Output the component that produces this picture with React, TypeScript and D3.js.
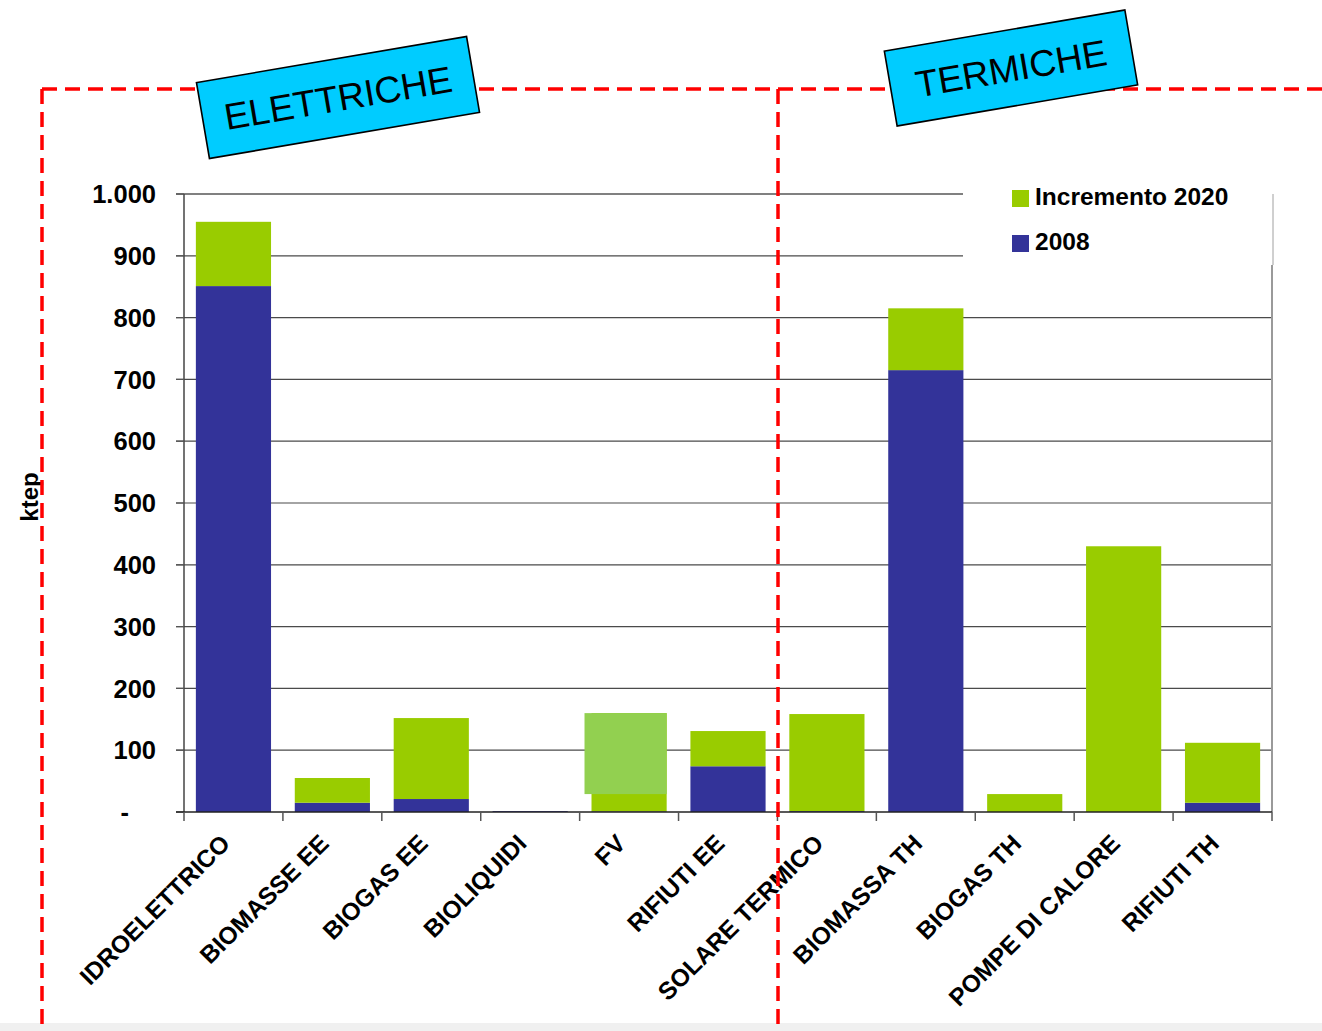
import React from "react";
import * as d3 from "d3";

// Categories and values (ktep)
const categories = [
  "IDROELETTRICO",
  "BIOMASSE EE",
  "BIOGAS EE",
  "BIOLIQUIDI",
  "FV",
  "RIFIUTI EE",
  "SOLARE TERMICO",
  "BIOMASSA TH",
  "BIOGAS TH",
  "POMPE DI CALORE",
  "RIFIUTI TH",
];
const values2008 = [851, 15, 21, 1.5, 1, 74, 1.5, 715, 0, 0, 15];
const increment2020 = [104, 40, 131, 0, 159, 57, 157, 100, 29, 430, 97];

// Highlight patch pasted over the FV column (value range)
const fvPatch = [{ category: "FV", from: 29, to: 160 }];

const yTicks = [0, 100, 200, 300, 400, 500, 600, 700, 800, 900, 1000];
const legendItems = [
  { label: "Incremento 2020", color: "#99CC00" },
  { label: "2008", color: "#333399" },
];
const sections = [
  { label: "ELETTRICHE", cx: 338, cy: 97.5, w: 274, h: 77 },
  { label: "TERMICHE", cx: 1011, cy: 68, w: 244, h: 76 },
];

const W = 1322;
const H = 1031;
const FONT = "'Liberation Sans', Arial, Helvetica, sans-serif";
const GREEN = "#99CC00";
const BLUE = "#333399";
const LIGHT_GREEN = "#92D050";
const RED = "#FF0000";

export default function App() {
  const x0 = 184;
  const x1 = 1272;
  const yBase = 812;
  const yTop = 194;

  const x = d3
    .scaleBand<string>()
    .domain(categories)
    .range([x0, x1])
    .paddingInner(0.24)
    .paddingOuter(0.12);
  const y = d3.scaleLinear().domain([0, 1000]).range([yBase, yTop]);

  const rows = categories.map((c, i) => ({
    cat: c,
    v2008: values2008[i],
    inc: increment2020[i],
  }));
  const stack = d3
    .stack<any>()
    .keys(["v2008", "inc"])(rows as any);
  const colors = [BLUE, GREEN];

  const fmt = (v: number) =>
    v === 0 ? "-" : d3.format(",")(v).replace(/,/g, ".");

  const step = x.step();
  const boundaries = d3.range(categories.length + 1).map(
    (i) => x0 + i * step
  );

  const legendLeft = 963;
  const legendTop = 180;
  const legendBottom = 265;

  return (
    <svg
      width={W}
      height={H}
      style={{ position: "absolute", left: 0, top: 0, background: "#fff" }}
      fontFamily={FONT}
    >
      <rect x={0} y={0} width={W} height={H} fill="#fff" />
      <rect x={0} y={1023} width={W} height={H - 1023} fill="#F0F0F0" />

      {/* horizontal dashed frame line */}
      <line
        x1={42}
        x2={W}
        y1={89}
        y2={89}
        stroke={RED}
        strokeWidth={3.5}
        strokeDasharray="15,8"
      />

      {/* gridlines */}
      {yTicks
        .filter((t) => t > 0)
        .map((t) => (
          <line
            key={"g" + t}
            x1={x0 - 8}
            x2={x1}
            y1={y(t)}
            y2={y(t)}
            stroke={t === 1000 ? "#808080" : "#4a4a4a"}
            strokeWidth={t === 1000 ? 2 : 1.2}
          />
        ))}

      {/* stacked bars */}
      {stack.map((layer, li) =>
        layer.map((d: any, i: number) => {
          const h = y(d[0]) - y(d[1]);
          if (h <= 0) return null;
          return (
            <rect
              key={li + "-" + i}
              x={x(categories[i])}
              y={y(d[1])}
              width={x.bandwidth()}
              height={h}
              fill={colors[li]}
            />
          );
        })
      )}

      {/* pasted highlight over FV */}
      {fvPatch.map((p) => (
        <rect
          key={"p" + p.category}
          x={(x(p.category) as number) - 7}
          y={y(p.to)}
          width={x.bandwidth() + 7}
          height={y(p.from) - y(p.to)}
          fill={LIGHT_GREEN}
        />
      ))}

      {/* legend box */}
      <rect
        x={legendLeft}
        y={legendTop}
        width={x1 - legendLeft}
        height={legendBottom - legendTop}
        fill="#fff"
      />
      {legendItems.map((it, i) => (
        <g key={it.label} transform={`translate(1012, ${190 + i * 45})`}>
          <rect x={0} y={0} width={17} height={17} fill={it.color} />
          <text
            x={23}
            y={15}
            fontSize={24.5}
            fontWeight="bold"
            fill="#000"
          >
            {it.label}
          </text>
        </g>
      ))}

      {/* right border of plot area */}
      <line
        x1={x1 + 1}
        x2={x1 + 1}
        y1={yTop}
        y2={legendBottom}
        stroke="#A0A0A0"
        strokeWidth={1}
      />
      <line
        x1={x1}
        x2={x1}
        y1={legendBottom}
        y2={yBase}
        stroke="#9A9A9A"
        strokeWidth={2}
      />

      {/* y axis */}
      <line x1={x0} x2={x0} y1={yTop} y2={yBase} stroke="#444" strokeWidth={1.5} />
      {yTicks.map((t) => (
        <g key={"t" + t}>
          <line
            x1={x0 - 8}
            x2={x0}
            y1={y(t)}
            y2={y(t)}
            stroke="#555"
            strokeWidth={1.2}
          />
          <text
            x={t === 0 ? 129 : 156}
            y={y(t)}
            dy="0.36em"
            textAnchor="end"
            fontSize={25.5}
            fontWeight="bold"
            fill="#000"
          >
            {fmt(t)}
          </text>
        </g>
      ))}
      <text
        transform="translate(38, 497) rotate(-90)"
        textAnchor="middle"
        fontSize={24}
        fontWeight="bold"
        fill="#000"
      >
        ktep
      </text>

      {/* x axis */}
      <line x1={x0 - 8} x2={x1} y1={yBase} y2={yBase} stroke="#222" strokeWidth={1.5} />
      {boundaries.map((bx, i) => (
        <line
          key={"b" + i}
          x1={bx}
          x2={bx}
          y1={yBase}
          y2={yBase + 9}
          stroke="#555"
          strokeWidth={1.5}
        />
      ))}
      {categories.map((c) => {
        const cx = (x(c) as number) + x.bandwidth() / 2;
        return (
          <text
            key={"l" + c}
            transform={`translate(${cx - 2}, 845) rotate(-45)`}
            textAnchor="end"
            fontSize={24.5}
            fontWeight="bold"
            fill="#000"
          >
            {c}
          </text>
        );
      })}

      {/* vertical dashed frame lines */}
      {[42, 778].map((vx) => (
        <line
          key={"v" + vx}
          x1={vx}
          x2={vx}
          y1={89}
          y2={H}
          stroke={RED}
          strokeWidth={3.5}
          strokeDasharray="15,8"
        />
      ))}

      {/* section banners */}
      {sections.map((s) => (
        <g
          key={s.label}
          transform={`translate(${s.cx}, ${s.cy}) rotate(-9.7)`}
        >
          <rect
            x={-s.w / 2}
            y={-s.h / 2}
            width={s.w}
            height={s.h}
            fill="#00CCFF"
            stroke="#000"
            strokeWidth={1.6}
          />
          <text
            x={0}
            y={0}
            dy="0.36em"
            textAnchor="middle"
            fontSize={37}
            fill="#000"
          >
            {s.label}
          </text>
        </g>
      ))}
    </svg>
  );
}
